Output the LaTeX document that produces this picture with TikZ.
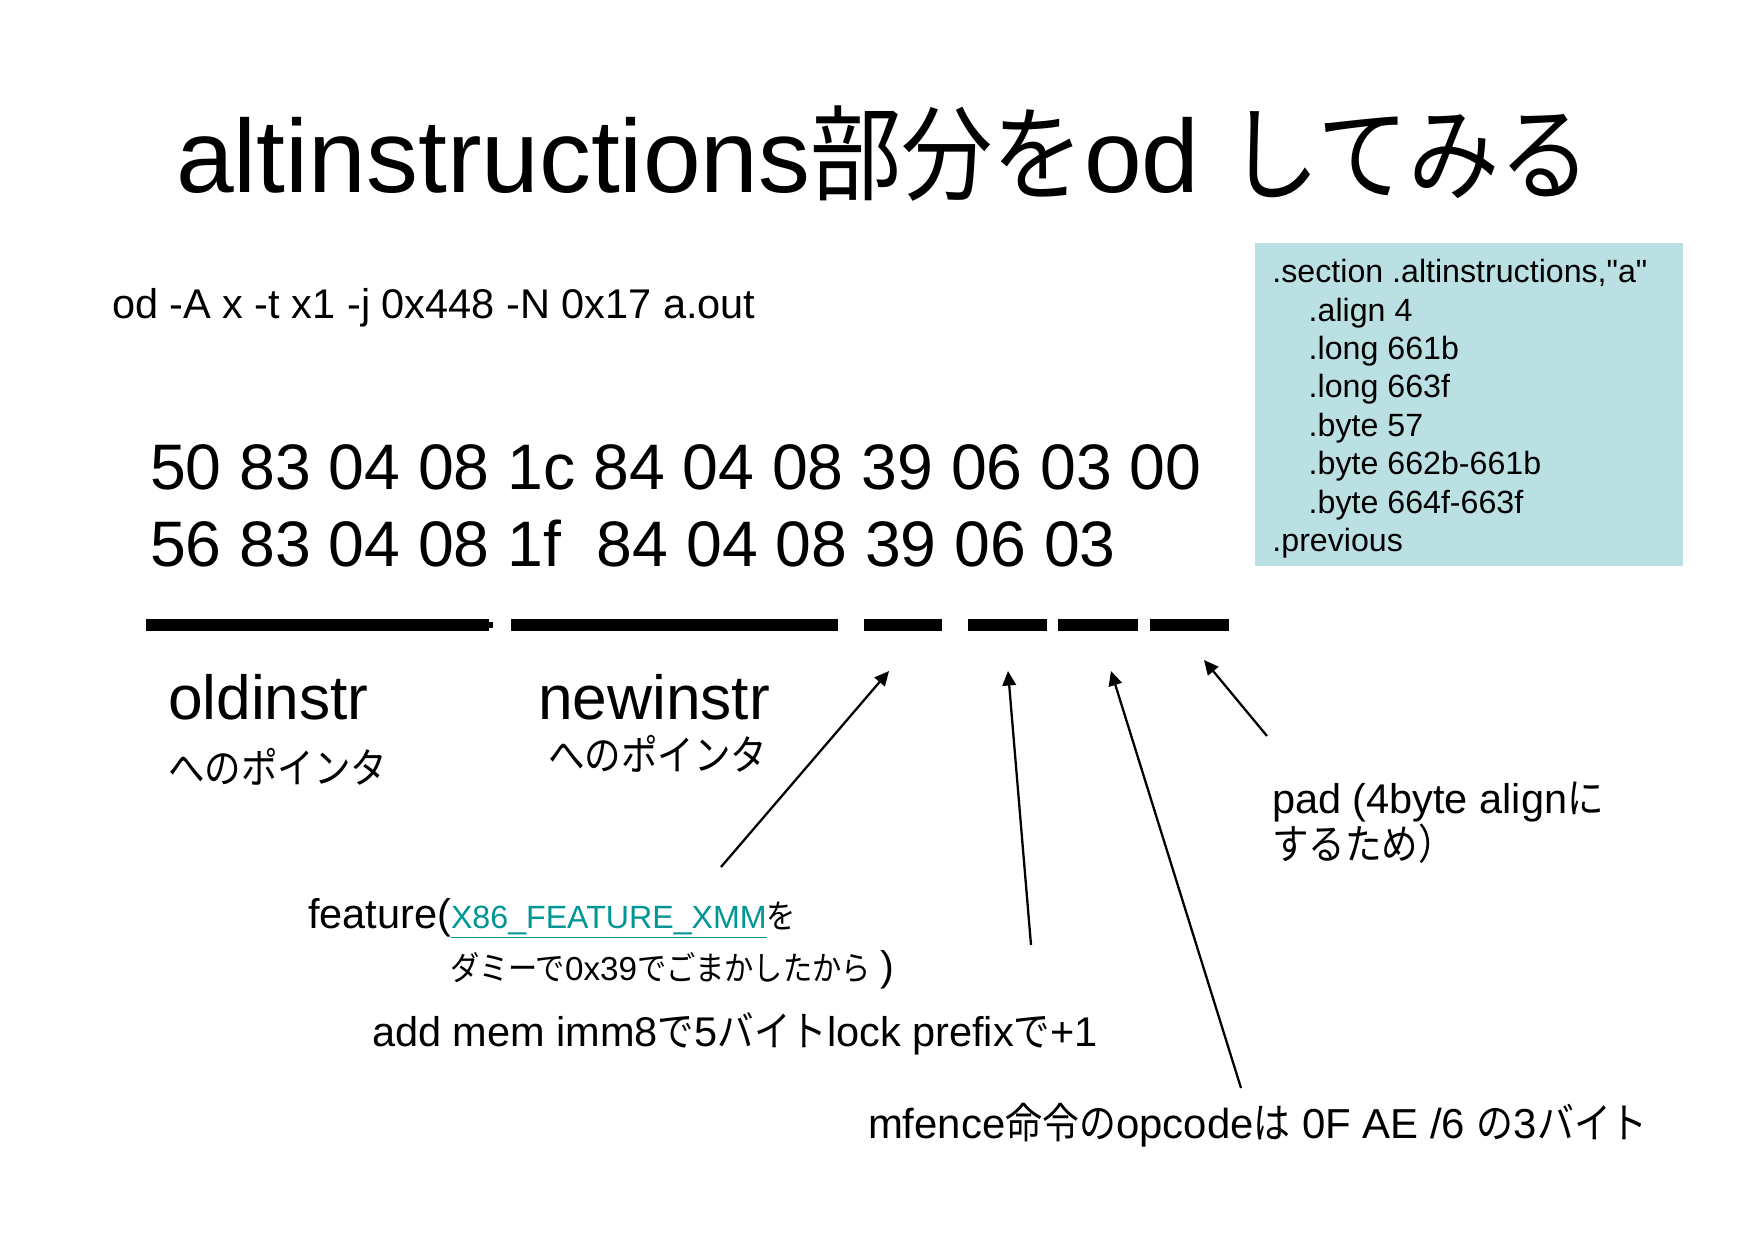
\documentclass[tikz,border=0pt]{standalone}
\usepackage{fontspec}
\setmainfont{Liberation Sans}[Ligatures=TeXOff]
\newfontfamily\jp{Noto Sans CJK JP}[FakeStretch=0.88]
\usetikzlibrary{arrows.meta}
\newcommand\jpx[1]{{\jp #1}}
\newcommand\fsz[1]{\fontsize{#1}{#1}\selectfont}
\definecolor{boxblue}{RGB}{187,224,227}
\definecolor{linkteal}{RGB}{0,150,150}
\tikzset{
  txt/.style={anchor=base west, inner sep=0pt, outer sep=0pt},
  bar/.style={fill=black},
  ptr/.style={line width=1.1pt, -{Triangle[length=7pt,width=6.5pt]}},
  codebox/.style={fill=boxblue, draw=none, anchor=north west, inner sep=0pt,
    minimum width=206pt, minimum height=155.5pt}
}
\begin{document}
\begin{tikzpicture}[x=0.0169327cm, y=-0.0169327cm]
\useasboundingbox[fill=white] (0,0) rectangle (1754,1240);

% title
\node[txt, font=\fsz{50}] (title) at (176,192) {altinstructions\jpx{部分を}od \jpx{してみる}};

% command
\node[txt, font=\fsz{20}] (cmd) at (112,318) {od -A x -t x1 -j 0x448 -N 0x17 a.out};

% hex dump
\node[txt, font=\fsz{31}] (row1) at (150,489) {50 83 04 08 1c 84 04 08 39 06 03 00};
\node[txt, font=\fsz{31}] (row2) at (150,566) {56 83 04 08 1f\ \ 84 04 08 39 06 03};

% bars
\fill[bar] (146,619) rectangle (489,631);
\fill[bar] (489,622) rectangle (493,628);
\fill[bar] (511,619) rectangle (838,631);
\fill[bar] (864,619) rectangle (942,631);
\fill[bar] (968,619) rectangle (1047,631);
\fill[bar] (1058,619) rectangle (1138,631);
\fill[bar] (1150,619) rectangle (1229,631);

% code box
\node[codebox] (box) at (1255,243) {};
\node[anchor=north west, inner sep=0pt, align=left, font=\fontsize{15.5}{18.5}\selectfont] (code) at (1272,259) {%
.section .altinstructions,"a"\\
\hspace*{17.5pt}.align 4\\
\hspace*{17.5pt}.long 661b\\
\hspace*{17.5pt}.long 663f\\
\hspace*{17.5pt}.byte 57\\
\hspace*{17.5pt}.byte 662b-661b\\
\hspace*{17.5pt}.byte 664f-663f\\
.previous};

% labels
\node[txt, font=\fsz{30}] (old) at (168,719) {oldinstr};
\node[txt, font=\fsz{20}] (oldp) at (168,783) {\jpx{へのポインタ}};
\node[txt, font=\fsz{30}] (new) at (538,719) {newinstr};
\node[txt, font=\fsz{20}] (newp) at (548,770) {\jpx{へのポインタ}};

\node[txt, font=\fsz{20}] (pad1) at (1272,813) {pad (4byte align\jpx{に}};
\node[txt, font=\fsz{20}] (pad2) at (1272,859) {\jpx{するため）}};

\node[txt] (feat1) at (308,928) {{\fsz{20}feature(}{\fsz{15.5}\color{linkteal}\underline{X86\_FEATURE\_XMM}}{\fsz{16}\jpx{を}}};
\node[txt, font=\fsz{16}] (feat2) at (450,980) {\jpx{ダミーで}0x39\jpx{でごまかしたから} {\fsz{20})}};

\node[txt, font=\fsz{20}] (lock) at (372,1046) {add mem imm8\jpx{で}5\jpx{バイト}lock prefix\jpx{で}+1};
\node[txt, font=\fsz{20.2}] (mfence) at (868,1138) {mfence\jpx{命令の}opcode\jpx{は} 0F AE /6 \jpx{の}3\jpx{バイト}};

% arrows
\coordinate (a1s) at (721,867);  \coordinate (a1e) at (889,671);
\coordinate (a2s) at (1031,945); \coordinate (a2e) at (1008,671);
\coordinate (a3s) at (1241,1088);\coordinate (a3e) at (1111,671);
\coordinate (a4s) at (1267,736); \coordinate (a4e) at (1204,660);
\draw[ptr] (a1s) -- (a1e);
\draw[ptr] (a2s) -- (a2e);
\draw[ptr] (a3s) -- (a3e);
\draw[ptr] (a4s) -- (a4e);
\end{tikzpicture}
\end{document}
